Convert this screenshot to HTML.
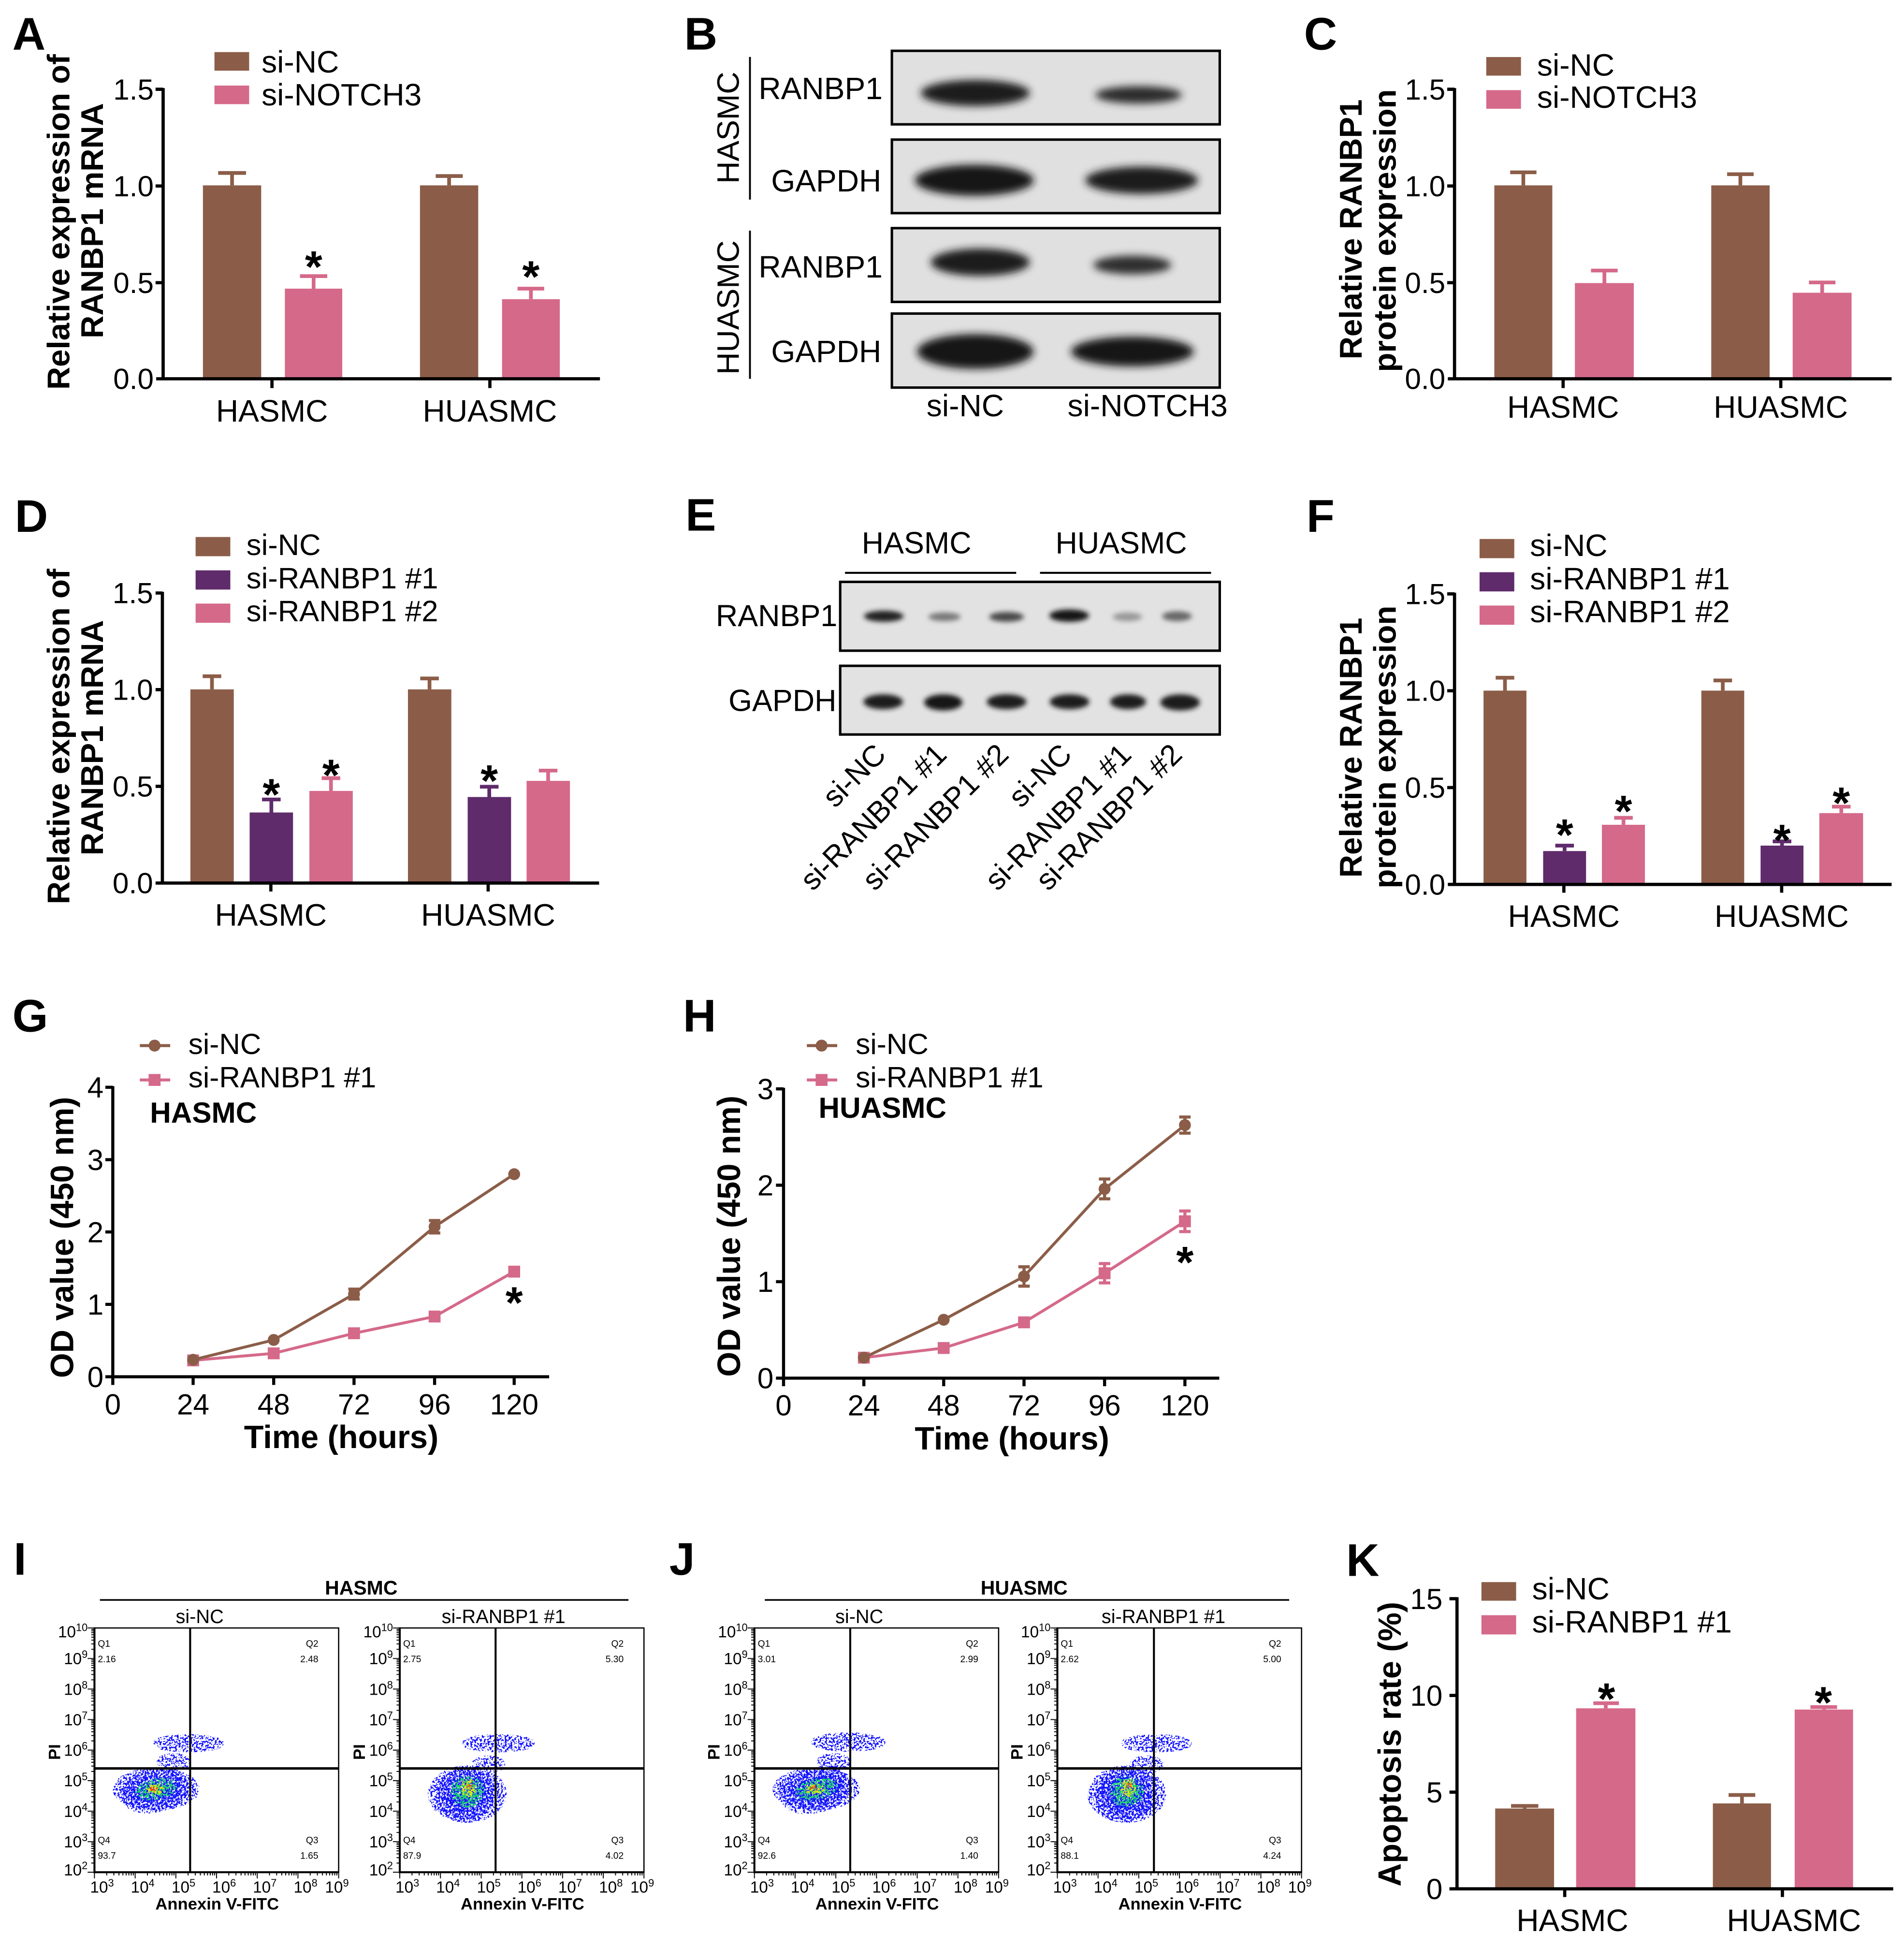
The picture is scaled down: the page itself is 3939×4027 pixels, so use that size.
<!DOCTYPE html>
<html><head><meta charset="utf-8"><title>RANBP1 figure</title>
<style>
html,body{margin:0;padding:0;background:#fff;}
svg{display:block;}
text{font-family:"Liberation Sans",Arial,sans-serif;fill:#000;}
.b{font-weight:bold;}
.pl{font-size:37px;font-weight:bold;}
.st{font-size:36px;font-weight:bold;text-anchor:middle;}
</style></head><body>
<svg xmlns="http://www.w3.org/2000/svg" width="3939" height="4027" viewBox="0 0 1536 1570.3" preserveAspectRatio="none">
<defs>
<filter id="bl" x="-50%" y="-150%" width="200%" height="400%"><feGaussianBlur stdDeviation="3.2"/></filter>
<filter id="bl2" x="-50%" y="-100%" width="200%" height="300%"><feGaussianBlur stdDeviation="2"/></filter>
<filter id="spD" x="-100%" y="-100%" width="300%" height="300%" color-interpolation-filters="sRGB">
<feGaussianBlur in="SourceAlpha" stdDeviation="5.5" result="b"/>
<feTurbulence type="fractalNoise" baseFrequency="0.6" numOctaves="2" seed="4" result="n"/>
<feColorMatrix in="n" type="matrix" values="0 0 0 0 0 0 0 0 0 0 0 0 0 0 0 8 0 0 0 -3.5" result="na"/>
<feComposite in="b" in2="na" operator="arithmetic" k1="0" k2="1" k3="1" k4="-0.8" result="s"/>
<feComponentTransfer in="s" result="t"><feFuncA type="discrete" tableValues="0 1 1 1"/></feComponentTransfer>
<feFlood flood-color="#1414ff" result="f"/>
<feComposite in="f" in2="t" operator="in"/>
</filter>
<filter id="spS" x="-100%" y="-100%" width="300%" height="300%" color-interpolation-filters="sRGB">
<feGaussianBlur in="SourceAlpha" stdDeviation="5" result="b"/>
<feTurbulence type="fractalNoise" baseFrequency="0.65" numOctaves="2" seed="9" result="n"/>
<feColorMatrix in="n" type="matrix" values="0 0 0 0 0 0 0 0 0 0 0 0 0 0 0 8 0 0 0 -3.5" result="na"/>
<feComposite in="b" in2="na" operator="arithmetic" k1="0" k2="1" k3="1" k4="-1.38" result="s"/>
<feComponentTransfer in="s" result="t"><feFuncA type="discrete" tableValues="0 1 1 1"/></feComponentTransfer>
<feFlood flood-color="#1010ff" result="f"/>
<feComposite in="f" in2="t" operator="in"/>
</filter>
<filter id="spG" x="-100%" y="-100%" width="300%" height="300%" color-interpolation-filters="sRGB">
<feGaussianBlur in="SourceAlpha" stdDeviation="3" result="b"/>
<feTurbulence type="fractalNoise" baseFrequency="0.6" numOctaves="2" seed="17" result="n"/>
<feColorMatrix in="n" type="matrix" values="0 0 0 0 0 0 0 0 0 0 0 0 0 0 0 8 0 0 0 -3.5" result="na"/>
<feComposite in="b" in2="na" operator="arithmetic" k1="0" k2="1" k3="1" k4="-1.1" result="s"/>
<feComponentTransfer in="s" result="t"><feFuncA type="discrete" tableValues="0 1 1 1"/></feComponentTransfer>
<feFlood flood-color="#1ed868" result="f"/>
<feComposite in="f" in2="t" operator="in"/>
</filter>
<filter id="spY" x="-100%" y="-100%" width="300%" height="300%" color-interpolation-filters="sRGB">
<feGaussianBlur in="SourceAlpha" stdDeviation="2" result="b"/>
<feTurbulence type="fractalNoise" baseFrequency="0.6" numOctaves="2" seed="29" result="n"/>
<feColorMatrix in="n" type="matrix" values="0 0 0 0 0 0 0 0 0 0 0 0 0 0 0 8 0 0 0 -3.5" result="na"/>
<feComposite in="b" in2="na" operator="arithmetic" k1="0" k2="1" k3="1" k4="-1.1" result="s"/>
<feComponentTransfer in="s" result="t"><feFuncA type="discrete" tableValues="0 1 1 1"/></feComponentTransfer>
<feFlood flood-color="#e8e41c" result="f"/>
<feComposite in="f" in2="t" operator="in"/>
</filter>
<filter id="spR" x="-100%" y="-100%" width="300%" height="300%" color-interpolation-filters="sRGB">
<feGaussianBlur in="SourceAlpha" stdDeviation="1.5" result="b"/>
<feTurbulence type="fractalNoise" baseFrequency="0.6" numOctaves="2" seed="41" result="n"/>
<feColorMatrix in="n" type="matrix" values="0 0 0 0 0 0 0 0 0 0 0 0 0 0 0 8 0 0 0 -3.5" result="na"/>
<feComposite in="b" in2="na" operator="arithmetic" k1="0" k2="1" k3="1" k4="-1.1" result="s"/>
<feComponentTransfer in="s" result="t"><feFuncA type="discrete" tableValues="0 1 1 1"/></feComponentTransfer>
<feFlood flood-color="#f03a10" result="f"/>
<feComposite in="f" in2="t" operator="in"/>
</filter>
</defs>
<rect width="1536" height="1570.3" fill="#fff"/>

<!-- ================= A ================= -->
<text class="pl" x="10" y="40">A</text>
<rect x="173" y="42" width="28" height="15" fill="#8B5D48"/>
<rect x="173" y="69" width="28" height="15" fill="#D5698A"/>
<text x="211" y="58.5" font-size="25">si-NC</text>
<text x="211" y="85" font-size="25">si-NOTCH3</text>
<g fill="#8B5D48"><rect x="163.7" y="149.5" width="47" height="156"/><rect x="338.8" y="149.5" width="47" height="156"/></g>
<g fill="#D5698A"><rect x="229.8" y="232.8" width="46.3" height="72.7"/><rect x="405" y="241.3" width="46.6" height="64.2"/></g>
<g fill="none" stroke-width="3">
<path d="M187.2 149.5V139.5M176 139.5H198.5M362.3 149.5V142M351.5 142H373.3" stroke="#8B5D48"/>
<path d="M253 232.8V222.7M242 222.7H264M428.3 241.3V232.8M417.5 232.8H439" stroke="#D5698A"/>
</g>
<g stroke="#000" stroke-width="2.6" fill="none">
<path d="M131.6 71V306.8M126 305.5H484M125.5 72H131.6M125.5 150H131.6M125.5 228H131.6M219.4 305.5V313M395.2 305.5V313"/>
</g>
<g font-size="23.5" text-anchor="end"><text x="124" y="80.3">1.5</text><text x="124" y="158.3">1.0</text><text x="124" y="236.3">0.5</text><text x="124" y="313.8">0.0</text></g>
<text class="st" x="253" y="227.5">*</text><text class="st" x="428.3" y="235.5">*</text>
<g font-size="25" text-anchor="middle"><text x="219.4" y="340">HASMC</text><text x="395.2" y="340">HUASMC</text></g>
<text class="b" font-size="25.5" text-anchor="middle" transform="translate(56,179) rotate(-90)">Relative expression of</text>
<text class="b" font-size="25.5" text-anchor="middle" transform="translate(83,178) rotate(-90)">RANBP1 mRNA</text>

<!-- ================= B ================= -->
<text class="pl" x="552" y="40">B</text>
<g fill="#E0E0E0">
<rect x="719.5" y="41" width="264.5" height="59.3"/><rect x="719.5" y="112.6" width="264.5" height="59.3"/>
<rect x="719.5" y="184" width="264.5" height="59.5"/><rect x="719.5" y="252.9" width="264.5" height="59.7"/>
</g>
<g filter="url(#bl)">
<ellipse cx="786.8" cy="75" rx="44" ry="10.5" fill="#1c1c1c"/><ellipse cx="918.5" cy="76.5" rx="35" ry="7" fill="#2a2a2a"/>
<ellipse cx="786" cy="145.4" rx="48" ry="12.5" fill="#161616"/><ellipse cx="921" cy="145.4" rx="45.5" ry="11" fill="#1c1c1c"/>
<ellipse cx="790.8" cy="211.5" rx="40" ry="11" fill="#1e1e1e"/><ellipse cx="913.5" cy="213.7" rx="31.5" ry="7.5" fill="#2e2e2e"/>
<ellipse cx="786.8" cy="283.5" rx="47" ry="14" fill="#141414"/><ellipse cx="913.5" cy="283.5" rx="49.5" ry="12" fill="#181818"/>
</g>
<g fill="none" stroke="#000" stroke-width="2">
<rect x="719.5" y="41" width="264.5" height="59.3"/><rect x="719.5" y="112.6" width="264.5" height="59.3"/>
<rect x="719.5" y="184" width="264.5" height="59.5"/><rect x="719.5" y="252.9" width="264.5" height="59.7"/>
</g>
<g stroke="#000" stroke-width="1.5"><line x1="605" y1="45.9" x2="605" y2="161"/><line x1="605" y1="186" x2="605" y2="305.5"/></g>
<g font-size="25" text-anchor="end">
<text x="712" y="80">RANBP1</text><text x="711" y="154.4">GAPDH</text>
<text x="712" y="223.8">RANBP1</text><text x="711" y="292">GAPDH</text>
</g>
<text font-size="25" text-anchor="middle" transform="translate(596,103) rotate(-90)">HASMC</text>
<text font-size="25" text-anchor="middle" transform="translate(596,248) rotate(-90)">HUASMC</text>
<g font-size="25" text-anchor="middle"><text x="778.7" y="335.7">si-NC</text><text x="925.8" y="335.7">si-NOTCH3</text></g>

<!-- ================= C ================= -->
<text class="pl" x="1052" y="40">C</text>
<rect x="1199" y="46" width="28" height="15" fill="#8B5D48"/>
<rect x="1199" y="72.7" width="28" height="15" fill="#D5698A"/>
<text x="1240" y="61" font-size="25">si-NC</text>
<text x="1240" y="87" font-size="25">si-NOTCH3</text>
<g fill="#8B5D48"><rect x="1205.5" y="149.5" width="46.8" height="156"/><rect x="1380.5" y="149.5" width="47.1" height="156"/></g>
<g fill="#D5698A"><rect x="1270.5" y="228.3" width="47.5" height="77.2"/><rect x="1446.2" y="236.1" width="47.5" height="69.4"/></g>
<g fill="none" stroke-width="3">
<path d="M1228.9 149.5V139M1218.3 139H1239.5M1404 149.5V140.5M1393.3 140.5H1414.7" stroke="#8B5D48"/>
<path d="M1294.3 228.3V218.2M1283.5 218.2H1305M1470 236.1V227.8M1459.3 227.8H1480.7" stroke="#D5698A"/>
</g>
<path d="M1173.4 71V306.8M1168 305.5H1526M1167.5 72H1173.4M1167.5 150H1173.4M1167.5 228H1173.4M1261 305.5V313M1436.6 305.5V313" stroke="#000" stroke-width="2.6" fill="none"/>
<g font-size="23.5" text-anchor="end"><text x="1166" y="80.3">1.5</text><text x="1166" y="158.3">1.0</text><text x="1166" y="236.3">0.5</text><text x="1166" y="313.8">0.0</text></g>
<g font-size="25" text-anchor="middle"><text x="1261" y="337">HASMC</text><text x="1436.6" y="337">HUASMC</text></g>
<text class="b" font-size="25.5" text-anchor="middle" transform="translate(1098.5,185) rotate(-90)">Relative RANBP1</text>
<text class="b" font-size="25.5" text-anchor="middle" transform="translate(1126,186) rotate(-90)">protein expression</text>

<!-- ================= D ================= -->
<text class="pl" x="12" y="429">D</text>
<rect x="157.8" y="433.1" width="28" height="15.5" fill="#8B5D48"/>
<rect x="157.8" y="460" width="28" height="15.5" fill="#5F2B6B"/>
<rect x="157.8" y="486.8" width="28" height="15.5" fill="#D5698A"/>
<g font-size="24"><text x="198.8" y="447.6">si-NC</text><text x="198.8" y="474.5">si-RANBP1 #1</text><text x="198.8" y="501.1">si-RANBP1 #2</text></g>
<g fill="#8B5D48"><rect x="153.6" y="556" width="35" height="156.2"/><rect x="329.1" y="556" width="35" height="156.2"/></g>
<g fill="#5F2B6B"><rect x="201.4" y="655.3" width="35" height="56.9"/><rect x="377.3" y="642.8" width="35" height="69.4"/></g>
<g fill="#D5698A"><rect x="249.6" y="637.9" width="35" height="74.3"/><rect x="424.8" y="629.8" width="35" height="82.4"/></g>
<g fill="none" stroke-width="3">
<path d="M171 556V545.4M163.5 545.4H178.5M346.5 556V547.2M339 547.2H354" stroke="#8B5D48"/>
<path d="M218.9 655.3V644.8M211.4 644.8H226.4M394.7 642.8V634.5M387.2 634.5H402.2" stroke="#5F2B6B"/>
<path d="M267 637.9V627.6M259.5 627.6H274.5M442.2 629.8V621.5M434.7 621.5H449.7" stroke="#D5698A"/>
</g>
<path d="M131 477.3V713.5M125.5 712.2H483.3M125.5 478.3H131M125.5 556.2H131M125.5 634.2H131M218.5 712.2V719M393.8 712.2V719" stroke="#000" stroke-width="2.6" fill="none"/>
<g font-size="23.5" text-anchor="end"><text x="123.5" y="486.5">1.5</text><text x="123.5" y="564.4">1.0</text><text x="123.5" y="642.4">0.5</text><text x="123.5" y="720.4">0.0</text></g>
<text class="st" x="218.9" y="653.2">*</text><text class="st" x="267" y="637.5">*</text><text class="st" x="394.7" y="642">*</text>
<g font-size="25" text-anchor="middle"><text x="218.5" y="746.5">HASMC</text><text x="393.8" y="746.5">HUASMC</text></g>
<text class="b" font-size="25.5" text-anchor="middle" transform="translate(56,594) rotate(-90)">Relative expression of</text>
<text class="b" font-size="25.5" text-anchor="middle" transform="translate(83,595) rotate(-90)">RANBP1 mRNA</text>

<!-- ================= E ================= -->
<text class="pl" x="553" y="428">E</text>
<g font-size="24.5" text-anchor="middle"><text x="739.4" y="446.3">HASMC</text><text x="904.5" y="446.3">HUASMC</text></g>
<g stroke="#000" stroke-width="1.6"><line x1="681.7" y1="462" x2="819.8" y2="462"/><line x1="839" y1="462" x2="977" y2="462"/></g>
<g fill="#E2E2E2"><rect x="677.8" y="469.3" width="306.2" height="55.5"/><rect x="677.8" y="537" width="306.2" height="55.4"/></g>
<g filter="url(#bl2)">
<ellipse cx="713" cy="497" rx="16" ry="4.5" fill="#222"/>
<ellipse cx="762" cy="497.5" rx="13" ry="3.5" fill="#787878"/>
<ellipse cx="812" cy="497.5" rx="14" ry="4" fill="#484848"/>
<ellipse cx="862.5" cy="496.5" rx="16" ry="5" fill="#181818"/>
<ellipse cx="909.5" cy="497.5" rx="12" ry="3.5" fill="#989898"/>
<ellipse cx="949.5" cy="497" rx="12" ry="4" fill="#686868"/>
<ellipse cx="712.5" cy="566" rx="16" ry="6" fill="#1c1c1c"/>
<ellipse cx="761" cy="566.5" rx="15.5" ry="6.5" fill="#181818"/>
<ellipse cx="812" cy="566" rx="16" ry="6" fill="#1c1c1c"/>
<ellipse cx="862.8" cy="566" rx="16" ry="6" fill="#1e1e1e"/>
<ellipse cx="910" cy="566" rx="14.5" ry="6" fill="#1c1c1c"/>
<ellipse cx="952" cy="566.5" rx="16" ry="6.5" fill="#1a1a1a"/>
</g>
<g fill="none" stroke="#000" stroke-width="2"><rect x="677.8" y="469.3" width="306.2" height="55.5"/><rect x="677.8" y="537" width="306.2" height="55.4"/></g>
<g font-size="24.5" text-anchor="end"><text x="675.5" y="505">RANBP1</text><text x="674.8" y="573.4">GAPDH</text></g>
<g font-size="24" text-anchor="end">
<text transform="translate(716,610) rotate(-45)">si-NC</text>
<text transform="translate(765,610) rotate(-45)">si-RANBP1 #1</text>
<text transform="translate(815,610) rotate(-45)">si-RANBP1 #2</text>
<text transform="translate(866,610) rotate(-45)">si-NC</text>
<text transform="translate(914,610) rotate(-45)">si-RANBP1 #1</text>
<text transform="translate(955,610) rotate(-45)">si-RANBP1 #2</text>
</g>

<!-- ================= F ================= -->
<text class="pl" x="1054" y="429">F</text>
<rect x="1193.6" y="434.7" width="28" height="15.5" fill="#8B5D48"/>
<rect x="1193.6" y="461.5" width="28" height="15.5" fill="#5F2B6B"/>
<rect x="1193.6" y="488.4" width="28" height="15.5" fill="#D5698A"/>
<g font-size="25"><text x="1234.3" y="448.5">si-NC</text><text x="1234.3" y="475.4">si-RANBP1 #1</text><text x="1234.3" y="501.8">si-RANBP1 #2</text></g>
<g fill="#8B5D48"><rect x="1196.8" y="557" width="34.6" height="156.3"/><rect x="1372.5" y="557" width="34.6" height="156.3"/></g>
<g fill="#5F2B6B"><rect x="1244.9" y="686.4" width="34.6" height="26.9"/><rect x="1420.3" y="682" width="34.6" height="31.3"/></g>
<g fill="#D5698A"><rect x="1292.3" y="665.2" width="34.7" height="48.1"/><rect x="1467.7" y="655.8" width="35.3" height="57.5"/></g>
<g fill="none" stroke-width="3">
<path d="M1214.1 557V546.6M1206.6 546.6H1221.6M1389.8 557V548.8M1382.3 548.8H1397.3" stroke="#8B5D48"/>
<path d="M1262.2 686.4V682M1254.7 682H1269.7M1437.6 682V678.6M1430.1 678.6H1445.1" stroke="#5F2B6B"/>
<path d="M1309.7 665.2V659.6M1302.2 659.6H1317.2M1485.4 655.8V650.6M1477.9 650.6H1492.9" stroke="#D5698A"/>
</g>
<path d="M1173.4 478V714.6M1168 713.3H1526M1167.5 479H1173.4M1167.5 557.1H1173.4M1167.5 635.2H1173.4M1261.6 713.3V720M1437.3 713.3V720" stroke="#000" stroke-width="2.6" fill="none"/>
<g font-size="23.5" text-anchor="end"><text x="1166" y="487.2">1.5</text><text x="1166" y="565.3">1.0</text><text x="1166" y="643.4">0.5</text><text x="1166" y="721.5">0.0</text></g>
<text class="st" x="1262.2" y="685.7">*</text><text class="st" x="1309.7" y="666.7">*</text><text class="st" x="1437.6" y="690.1">*</text><text class="st" x="1485.4" y="660">*</text>
<g font-size="25" text-anchor="middle"><text x="1261.6" y="747.5">HASMC</text><text x="1437.3" y="747.5">HUASMC</text></g>
<text class="b" font-size="25.5" text-anchor="middle" transform="translate(1098.5,603) rotate(-90)">Relative RANBP1</text>
<text class="b" font-size="25.5" text-anchor="middle" transform="translate(1126,602.5) rotate(-90)">protein expression</text>

<!-- ================= G ================= -->
<text class="pl" x="10" y="832">G</text>
<line x1="112.8" y1="843.3" x2="137.3" y2="843.3" stroke="#8B5D48" stroke-width="2.4"/>
<circle cx="124.7" cy="843.3" r="4.8" fill="#8B5D48"/>
<line x1="112.8" y1="871" x2="137.3" y2="871" stroke="#D5698A" stroke-width="2.4"/>
<rect x="119.9" y="866.2" width="9.6" height="9.6" fill="#D5698A"/>
<g font-size="23.5"><text x="152" y="850">si-NC</text><text x="152" y="877">si-RANBP1 #1</text></g>
<text class="b" font-size="23.5" x="121" y="905.4">HASMC</text>
<path d="M91 876V1111.6M85 1110.4H443M85 876.9H91M85 935.3H91M85 993.6H91M85 1052H91M91 1110.4V1117M155.8 1110.4V1117M220.8 1110.4V1117M285.6 1110.4V1117M350.6 1110.4V1117M414.8 1110.4V1117" stroke="#000" stroke-width="2.5" fill="none"/>
<g font-size="23.5" text-anchor="end"><text x="83.5" y="885.2">4</text><text x="83.5" y="943.6">3</text><text x="83.5" y="1001.9">2</text><text x="83.5" y="1060.3">1</text><text x="83.5" y="1118.7">0</text></g>
<g font-size="23.5" text-anchor="middle"><text x="91" y="1140.7">0</text><text x="155.8" y="1140.7">24</text><text x="220.8" y="1140.7">48</text><text x="285.6" y="1140.7">72</text><text x="350.6" y="1140.7">96</text><text x="414.8" y="1140.7">120</text></g>
<text class="b" font-size="26" text-anchor="middle" x="275.3" y="1167.8">Time (hours)</text>
<text class="b" font-size="26" text-anchor="middle" transform="translate(59,998) rotate(-90)">OD value (450 nm)</text>
<polyline points="155.8,1097.2 220.8,1091.5 285.6,1075.3 350.6,1061.8 414.8,1025.6" fill="none" stroke="#D5698A" stroke-width="2.3"/>
<g fill="#D5698A"><rect x="151" y="1092.4" width="9.6" height="9.6"/><rect x="216" y="1086.7" width="9.6" height="9.6"/><rect x="280.8" y="1070.5" width="9.6" height="9.6"/><rect x="345.8" y="1057" width="9.6" height="9.6"/><rect x="410" y="1020.8" width="9.6" height="9.6"/></g>
<polyline points="155.8,1096.7 220.8,1080.7 285.6,1043.7 350.6,989.4 414.8,947" fill="none" stroke="#8B5D48" stroke-width="2.3"/>
<path d="M285.6 1039.7V1047.7M281 1039.7H290.2M281 1047.7H290.2M350.6 984.4V994.4M346 984.4H355.2M346 994.4H355.2" stroke="#8B5D48" stroke-width="2.5" fill="none"/>
<g fill="#8B5D48"><circle cx="155.8" cy="1096.7" r="4.8"/><circle cx="220.8" cy="1080.7" r="4.8"/><circle cx="285.6" cy="1043.7" r="4.8"/><circle cx="350.6" cy="989.4" r="4.8"/><circle cx="414.8" cy="947" r="4.8"/></g>
<text class="st" x="414.8" y="1063">*</text>

<!-- ================= H ================= -->
<text class="pl" x="551" y="832">H</text>
<line x1="650.9" y1="843.3" x2="675.4" y2="843.3" stroke="#8B5D48" stroke-width="2.4"/>
<circle cx="662.8" cy="843.3" r="4.8" fill="#8B5D48"/>
<line x1="650.9" y1="871" x2="675.4" y2="871" stroke="#D5698A" stroke-width="2.4"/>
<rect x="658" y="866.2" width="9.6" height="9.6" fill="#D5698A"/>
<g font-size="23.5"><text x="690.3" y="850">si-NC</text><text x="690.3" y="877">si-RANBP1 #1</text></g>
<text class="b" font-size="23.5" x="660.4" y="901.5">HUASMC</text>
<path d="M632.1 877.3V1112.7M626 1111.5H983.6M626 878.2H632.1M626 955.9H632.1M626 1033.7H632.1M632.1 1111.5V1118M696.9 1111.5V1118M761.3 1111.5V1118M826.1 1111.5V1118M891.1 1111.5V1118M955.9 1111.5V1118" stroke="#000" stroke-width="2.5" fill="none"/>
<g font-size="23.5" text-anchor="end"><text x="624" y="886.5">3</text><text x="624" y="964.2">2</text><text x="624" y="1042">1</text><text x="624" y="1119.8">0</text></g>
<g font-size="23.5" text-anchor="middle"><text x="632.1" y="1141.5">0</text><text x="696.9" y="1141.5">24</text><text x="761.3" y="1141.5">48</text><text x="826.1" y="1141.5">72</text><text x="891.1" y="1141.5">96</text><text x="955.9" y="1141.5">120</text></g>
<text class="b" font-size="26" text-anchor="middle" x="816.4" y="1169">Time (hours)</text>
<text class="b" font-size="26" text-anchor="middle" transform="translate(597,997) rotate(-90)">OD value (450 nm)</text>
<polyline points="696.9,1095 761.3,1087.2 826.1,1066.5 891.1,1026.9 955.9,985" fill="none" stroke="#D5698A" stroke-width="2.3"/>
<path d="M891.1 1019.1V1034.7M886.5 1019.1H895.7M886.5 1034.7H895.7M955.9 976.7V993.3M951.3 976.7H960.5M951.3 993.3H960.5" stroke="#D5698A" stroke-width="2.5" fill="none"/>
<g fill="#D5698A"><rect x="692.1" y="1090.2" width="9.6" height="9.6"/><rect x="756.5" y="1082.4" width="9.6" height="9.6"/><rect x="821.3" y="1061.7" width="9.6" height="9.6"/><rect x="886.3" y="1022.1" width="9.6" height="9.6"/><rect x="951.1" y="980.2" width="9.6" height="9.6"/></g>
<polyline points="696.9,1095 761.3,1064.4 826.1,1029.5 891.1,958.9 955.9,907.4" fill="none" stroke="#8B5D48" stroke-width="2.3"/>
<path d="M826.1 1021.7V1037.3M821.5 1021.7H830.7M821.5 1037.3H830.7M891.1 950.9V966.9M886.5 950.9H895.7M886.5 966.9H895.7M955.9 900.9V913.9M951.3 900.9H960.5M951.3 913.9H960.5" stroke="#8B5D48" stroke-width="2.5" fill="none"/>
<g fill="#8B5D48"><circle cx="696.9" cy="1095" r="4.8"/><circle cx="761.3" cy="1064.4" r="4.8"/><circle cx="826.1" cy="1029.5" r="4.8"/><circle cx="891.1" cy="958.9" r="4.8"/><circle cx="955.9" cy="907.4" r="4.8"/></g>
<text class="st" x="955.9" y="1030.5">*</text>

<!-- ================= I / J ================= -->
<text class="pl" x="11" y="1270">I</text>
<text class="pl" x="540" y="1270">J</text>
<text class="b" font-size="16" text-anchor="middle" x="291.4" y="1286">HASMC</text>
<text class="b" font-size="16" text-anchor="middle" x="826.2" y="1286">HUASMC</text>
<g stroke="#000" stroke-width="1.3"><line x1="80.6" y1="1290.4" x2="507" y2="1290.4"/><line x1="617" y1="1290.4" x2="1040" y2="1290.4"/></g>
<g font-size="15.5" text-anchor="middle">
<text x="161.1" y="1309.1">si-NC</text><text x="406.2" y="1309.1">si-RANBP1 #1</text>
<text x="693.2" y="1309.1">si-NC</text><text x="938.6" y="1309.1">si-RANBP1 #1</text>
</g>

<!-- scatter clouds -->
<g fill="#000">
<!-- I1 -->
<ellipse cx="126" cy="1443" rx="38" ry="19" filter="url(#spS)"/>
<ellipse cx="152" cy="1406" rx="35" ry="9" filter="url(#spS)"/>
<ellipse cx="140" cy="1421" rx="18" ry="9" filter="url(#spS)"/>
<ellipse cx="125" cy="1444" rx="21" ry="9.5" transform="rotate(-12 125 1444)" filter="url(#spD)"/>
<ellipse cx="126" cy="1443" rx="17" ry="7.5" transform="rotate(-12 126 1443)" filter="url(#spG)"/>
<ellipse cx="125" cy="1443" rx="8" ry="4" filter="url(#spY)"/>
<ellipse cx="124" cy="1442.5" rx="3.5" ry="2" filter="url(#spR)"/>
<!-- I2 -->
<ellipse cx="377" cy="1447" rx="34" ry="25" filter="url(#spS)"/>
<ellipse cx="402" cy="1406" rx="36" ry="9" filter="url(#spS)"/>
<ellipse cx="394" cy="1423" rx="18" ry="9" filter="url(#spS)"/>
<ellipse cx="376" cy="1447" rx="17" ry="14" transform="rotate(-25 376 1447)" filter="url(#spD)"/>
<ellipse cx="377" cy="1445" rx="13" ry="12" filter="url(#spG)"/>
<ellipse cx="378" cy="1442" rx="6" ry="7" filter="url(#spY)"/>
<ellipse cx="379" cy="1440" rx="2.5" ry="2.5" filter="url(#spR)"/>
<!-- J1 -->
<ellipse cx="658.4" cy="1443" rx="38" ry="19" filter="url(#spS)"/>
<ellipse cx="684.4" cy="1405" rx="36" ry="9.5" filter="url(#spS)"/>
<ellipse cx="672.4" cy="1421" rx="18" ry="9" filter="url(#spS)"/>
<ellipse cx="657.4" cy="1444" rx="22" ry="10" transform="rotate(-12 657.4 1444)" filter="url(#spD)"/>
<ellipse cx="658.4" cy="1443" rx="17" ry="7.5" transform="rotate(-12 658.4 1443)" filter="url(#spG)"/>
<ellipse cx="657.4" cy="1443" rx="8" ry="4" filter="url(#spY)"/>
<ellipse cx="656.4" cy="1442.5" rx="3.5" ry="2" filter="url(#spR)"/>
<!-- J2 -->
<ellipse cx="909" cy="1447" rx="34" ry="25" filter="url(#spS)"/>
<ellipse cx="933" cy="1406" rx="35" ry="9" filter="url(#spS)"/>
<ellipse cx="925" cy="1423" rx="18" ry="9" filter="url(#spS)"/>
<ellipse cx="908" cy="1447" rx="17" ry="14" transform="rotate(-25 908 1447)" filter="url(#spD)"/>
<ellipse cx="909" cy="1445" rx="13" ry="12" filter="url(#spG)"/>
<ellipse cx="910" cy="1442" rx="6" ry="7" filter="url(#spY)"/>
<ellipse cx="911" cy="1440" rx="2.5" ry="2.5" filter="url(#spR)"/>
</g>

<!-- plot frames -->
<g fill="none" stroke="#000">
<rect x="76.2" y="1313" width="197" height="197" stroke-width="1"/>
<rect x="322.5" y="1313" width="197" height="197" stroke-width="1"/>
<rect x="608.6" y="1313" width="197" height="197" stroke-width="1"/>
<rect x="853" y="1313" width="197" height="197" stroke-width="1"/>
<path stroke-width="1.6" d="M76.2 1312.5V1510.8M75.5 1510H273.2M322.5 1312.5V1510.8M321.8 1510H519.5M608.6 1312.5V1510.8M607.9 1510H805.6M853 1312.5V1510.8M852.3 1510H1050"/>
<path stroke-width="1.6" d="M153.4 1313V1510M399.8 1313V1510M685.9 1313V1510M930.9 1313V1510"/>
<path stroke-width="2" d="M76.2 1426.3H273.2M322.5 1426.3H519.5M608.6 1426.3H805.6M853 1426.3H1050"/>
</g>
<!-- log axis ticks -->
<g fill="none" stroke="#000" stroke-width="0.75">
<path transform="translate(76.2,1510)" d="M-5.5 0H0M-2.6 -7.41H0M-2.6 -11.75H0M-2.6 -14.82H0M-2.6 -17.21H0M-2.6 -19.16H0M-2.6 -20.81H0M-2.6 -22.24H0M-2.6 -23.49H0M-5.5 -24.63H0M-2.6 -32.04H0M-2.6 -36.38H0M-2.6 -39.45H0M-2.6 -41.84H0M-2.6 -43.79H0M-2.6 -45.44H0M-2.6 -46.87H0M-2.6 -48.12H0M-5.5 -49.25H0M-2.6 -56.66H0M-2.6 -61H0M-2.6 -64.07H0M-2.6 -66.46H0M-2.6 -68.41H0M-2.6 -70.06H0M-2.6 -71.49H0M-2.6 -72.74H0M-5.5 -73.88H0M-2.6 -81.29H0M-2.6 -85.63H0M-2.6 -88.7H0M-2.6 -91.09H0M-2.6 -93.04H0M-2.6 -94.69H0M-2.6 -96.12H0M-2.6 -97.37H0M-5.5 -98.5H0M-2.6 -105.91H0M-2.6 -110.25H0M-2.6 -113.32H0M-2.6 -115.71H0M-2.6 -117.66H0M-2.6 -119.31H0M-2.6 -120.74H0M-2.6 -121.99H0M-5.5 -123.13H0M-2.6 -130.54H0M-2.6 -134.88H0M-2.6 -137.95H0M-2.6 -140.34H0M-2.6 -142.29H0M-2.6 -143.94H0M-2.6 -145.37H0M-2.6 -146.62H0M-5.5 -147.75H0M-2.6 -155.16H0M-2.6 -159.5H0M-2.6 -162.57H0M-2.6 -164.96H0M-2.6 -166.91H0M-2.6 -168.56H0M-2.6 -169.99H0M-2.6 -171.24H0M-5.5 -172.38H0M-2.6 -179.79H0M-2.6 -184.13H0M-2.6 -187.2H0M-2.6 -189.59H0M-2.6 -191.54H0M-2.6 -193.19H0M-2.6 -194.62H0M-2.6 -195.87H0M-5.5 -197H0M0 0V5M9.88 0V2.6M15.66 0V2.6M19.77 0V2.6M22.95 0V2.6M25.55 0V2.6M27.75 0V2.6M29.65 0V2.6M31.33 0V2.6M32.83 0V5M42.71 0V2.6M48.49 0V2.6M52.6 0V2.6M55.78 0V2.6M58.38 0V2.6M60.58 0V2.6M62.48 0V2.6M64.16 0V2.6M65.67 0V5M75.55 0V2.6M81.33 0V2.6M85.44 0V2.6M88.62 0V2.6M91.22 0V2.6M93.42 0V2.6M95.32 0V2.6M97 0V2.6M98.5 0V5M108.38 0V2.6M114.16 0V2.6M118.27 0V2.6M121.45 0V2.6M124.05 0V2.6M126.25 0V2.6M128.15 0V2.6M129.83 0V2.6M131.33 0V5M141.21 0V2.6M146.99 0V2.6M151.1 0V2.6M154.28 0V2.6M156.88 0V2.6M159.08 0V2.6M160.98 0V2.6M162.66 0V2.6M164.17 0V5M174.05 0V2.6M179.83 0V2.6M183.94 0V2.6M187.12 0V2.6M189.72 0V2.6M191.92 0V2.6M193.82 0V2.6M195.5 0V2.6M197 0V5"/>
<path transform="translate(322.5,1510)" d="M-5.5 0H0M-2.6 -7.41H0M-2.6 -11.75H0M-2.6 -14.82H0M-2.6 -17.21H0M-2.6 -19.16H0M-2.6 -20.81H0M-2.6 -22.24H0M-2.6 -23.49H0M-5.5 -24.63H0M-2.6 -32.04H0M-2.6 -36.38H0M-2.6 -39.45H0M-2.6 -41.84H0M-2.6 -43.79H0M-2.6 -45.44H0M-2.6 -46.87H0M-2.6 -48.12H0M-5.5 -49.25H0M-2.6 -56.66H0M-2.6 -61H0M-2.6 -64.07H0M-2.6 -66.46H0M-2.6 -68.41H0M-2.6 -70.06H0M-2.6 -71.49H0M-2.6 -72.74H0M-5.5 -73.88H0M-2.6 -81.29H0M-2.6 -85.63H0M-2.6 -88.7H0M-2.6 -91.09H0M-2.6 -93.04H0M-2.6 -94.69H0M-2.6 -96.12H0M-2.6 -97.37H0M-5.5 -98.5H0M-2.6 -105.91H0M-2.6 -110.25H0M-2.6 -113.32H0M-2.6 -115.71H0M-2.6 -117.66H0M-2.6 -119.31H0M-2.6 -120.74H0M-2.6 -121.99H0M-5.5 -123.13H0M-2.6 -130.54H0M-2.6 -134.88H0M-2.6 -137.95H0M-2.6 -140.34H0M-2.6 -142.29H0M-2.6 -143.94H0M-2.6 -145.37H0M-2.6 -146.62H0M-5.5 -147.75H0M-2.6 -155.16H0M-2.6 -159.5H0M-2.6 -162.57H0M-2.6 -164.96H0M-2.6 -166.91H0M-2.6 -168.56H0M-2.6 -169.99H0M-2.6 -171.24H0M-5.5 -172.38H0M-2.6 -179.79H0M-2.6 -184.13H0M-2.6 -187.2H0M-2.6 -189.59H0M-2.6 -191.54H0M-2.6 -193.19H0M-2.6 -194.62H0M-2.6 -195.87H0M-5.5 -197H0M0 0V5M9.88 0V2.6M15.66 0V2.6M19.77 0V2.6M22.95 0V2.6M25.55 0V2.6M27.75 0V2.6M29.65 0V2.6M31.33 0V2.6M32.83 0V5M42.71 0V2.6M48.49 0V2.6M52.6 0V2.6M55.78 0V2.6M58.38 0V2.6M60.58 0V2.6M62.48 0V2.6M64.16 0V2.6M65.67 0V5M75.55 0V2.6M81.33 0V2.6M85.44 0V2.6M88.62 0V2.6M91.22 0V2.6M93.42 0V2.6M95.32 0V2.6M97 0V2.6M98.5 0V5M108.38 0V2.6M114.16 0V2.6M118.27 0V2.6M121.45 0V2.6M124.05 0V2.6M126.25 0V2.6M128.15 0V2.6M129.83 0V2.6M131.33 0V5M141.21 0V2.6M146.99 0V2.6M151.1 0V2.6M154.28 0V2.6M156.88 0V2.6M159.08 0V2.6M160.98 0V2.6M162.66 0V2.6M164.17 0V5M174.05 0V2.6M179.83 0V2.6M183.94 0V2.6M187.12 0V2.6M189.72 0V2.6M191.92 0V2.6M193.82 0V2.6M195.5 0V2.6M197 0V5"/>
<path transform="translate(608.6,1510)" d="M-5.5 0H0M-2.6 -7.41H0M-2.6 -11.75H0M-2.6 -14.82H0M-2.6 -17.21H0M-2.6 -19.16H0M-2.6 -20.81H0M-2.6 -22.24H0M-2.6 -23.49H0M-5.5 -24.63H0M-2.6 -32.04H0M-2.6 -36.38H0M-2.6 -39.45H0M-2.6 -41.84H0M-2.6 -43.79H0M-2.6 -45.44H0M-2.6 -46.87H0M-2.6 -48.12H0M-5.5 -49.25H0M-2.6 -56.66H0M-2.6 -61H0M-2.6 -64.07H0M-2.6 -66.46H0M-2.6 -68.41H0M-2.6 -70.06H0M-2.6 -71.49H0M-2.6 -72.74H0M-5.5 -73.88H0M-2.6 -81.29H0M-2.6 -85.63H0M-2.6 -88.7H0M-2.6 -91.09H0M-2.6 -93.04H0M-2.6 -94.69H0M-2.6 -96.12H0M-2.6 -97.37H0M-5.5 -98.5H0M-2.6 -105.91H0M-2.6 -110.25H0M-2.6 -113.32H0M-2.6 -115.71H0M-2.6 -117.66H0M-2.6 -119.31H0M-2.6 -120.74H0M-2.6 -121.99H0M-5.5 -123.13H0M-2.6 -130.54H0M-2.6 -134.88H0M-2.6 -137.95H0M-2.6 -140.34H0M-2.6 -142.29H0M-2.6 -143.94H0M-2.6 -145.37H0M-2.6 -146.62H0M-5.5 -147.75H0M-2.6 -155.16H0M-2.6 -159.5H0M-2.6 -162.57H0M-2.6 -164.96H0M-2.6 -166.91H0M-2.6 -168.56H0M-2.6 -169.99H0M-2.6 -171.24H0M-5.5 -172.38H0M-2.6 -179.79H0M-2.6 -184.13H0M-2.6 -187.2H0M-2.6 -189.59H0M-2.6 -191.54H0M-2.6 -193.19H0M-2.6 -194.62H0M-2.6 -195.87H0M-5.5 -197H0M0 0V5M9.88 0V2.6M15.66 0V2.6M19.77 0V2.6M22.95 0V2.6M25.55 0V2.6M27.75 0V2.6M29.65 0V2.6M31.33 0V2.6M32.83 0V5M42.71 0V2.6M48.49 0V2.6M52.6 0V2.6M55.78 0V2.6M58.38 0V2.6M60.58 0V2.6M62.48 0V2.6M64.16 0V2.6M65.67 0V5M75.55 0V2.6M81.33 0V2.6M85.44 0V2.6M88.62 0V2.6M91.22 0V2.6M93.42 0V2.6M95.32 0V2.6M97 0V2.6M98.5 0V5M108.38 0V2.6M114.16 0V2.6M118.27 0V2.6M121.45 0V2.6M124.05 0V2.6M126.25 0V2.6M128.15 0V2.6M129.83 0V2.6M131.33 0V5M141.21 0V2.6M146.99 0V2.6M151.1 0V2.6M154.28 0V2.6M156.88 0V2.6M159.08 0V2.6M160.98 0V2.6M162.66 0V2.6M164.17 0V5M174.05 0V2.6M179.83 0V2.6M183.94 0V2.6M187.12 0V2.6M189.72 0V2.6M191.92 0V2.6M193.82 0V2.6M195.5 0V2.6M197 0V5"/>
<path transform="translate(853,1510)" d="M-5.5 0H0M-2.6 -7.41H0M-2.6 -11.75H0M-2.6 -14.82H0M-2.6 -17.21H0M-2.6 -19.16H0M-2.6 -20.81H0M-2.6 -22.24H0M-2.6 -23.49H0M-5.5 -24.63H0M-2.6 -32.04H0M-2.6 -36.38H0M-2.6 -39.45H0M-2.6 -41.84H0M-2.6 -43.79H0M-2.6 -45.44H0M-2.6 -46.87H0M-2.6 -48.12H0M-5.5 -49.25H0M-2.6 -56.66H0M-2.6 -61H0M-2.6 -64.07H0M-2.6 -66.46H0M-2.6 -68.41H0M-2.6 -70.06H0M-2.6 -71.49H0M-2.6 -72.74H0M-5.5 -73.88H0M-2.6 -81.29H0M-2.6 -85.63H0M-2.6 -88.7H0M-2.6 -91.09H0M-2.6 -93.04H0M-2.6 -94.69H0M-2.6 -96.12H0M-2.6 -97.37H0M-5.5 -98.5H0M-2.6 -105.91H0M-2.6 -110.25H0M-2.6 -113.32H0M-2.6 -115.71H0M-2.6 -117.66H0M-2.6 -119.31H0M-2.6 -120.74H0M-2.6 -121.99H0M-5.5 -123.13H0M-2.6 -130.54H0M-2.6 -134.88H0M-2.6 -137.95H0M-2.6 -140.34H0M-2.6 -142.29H0M-2.6 -143.94H0M-2.6 -145.37H0M-2.6 -146.62H0M-5.5 -147.75H0M-2.6 -155.16H0M-2.6 -159.5H0M-2.6 -162.57H0M-2.6 -164.96H0M-2.6 -166.91H0M-2.6 -168.56H0M-2.6 -169.99H0M-2.6 -171.24H0M-5.5 -172.38H0M-2.6 -179.79H0M-2.6 -184.13H0M-2.6 -187.2H0M-2.6 -189.59H0M-2.6 -191.54H0M-2.6 -193.19H0M-2.6 -194.62H0M-2.6 -195.87H0M-5.5 -197H0M0 0V5M9.88 0V2.6M15.66 0V2.6M19.77 0V2.6M22.95 0V2.6M25.55 0V2.6M27.75 0V2.6M29.65 0V2.6M31.33 0V2.6M32.83 0V5M42.71 0V2.6M48.49 0V2.6M52.6 0V2.6M55.78 0V2.6M58.38 0V2.6M60.58 0V2.6M62.48 0V2.6M64.16 0V2.6M65.67 0V5M75.55 0V2.6M81.33 0V2.6M85.44 0V2.6M88.62 0V2.6M91.22 0V2.6M93.42 0V2.6M95.32 0V2.6M97 0V2.6M98.5 0V5M108.38 0V2.6M114.16 0V2.6M118.27 0V2.6M121.45 0V2.6M124.05 0V2.6M126.25 0V2.6M128.15 0V2.6M129.83 0V2.6M131.33 0V5M141.21 0V2.6M146.99 0V2.6M151.1 0V2.6M154.28 0V2.6M156.88 0V2.6M159.08 0V2.6M160.98 0V2.6M162.66 0V2.6M164.17 0V5M174.05 0V2.6M179.83 0V2.6M183.94 0V2.6M187.12 0V2.6M189.72 0V2.6M191.92 0V2.6M193.82 0V2.6M195.5 0V2.6M197 0V5"/>
</g>
<g font-size="7.5" fill="#222">
<text x="78.9" y="1328.2">Q1</text><text x="78.9" y="1340.6">2.16</text><text x="78.9" y="1486.6">Q4</text><text x="78.9" y="1499.2">93.7</text>
<text x="325.2" y="1328.2">Q1</text><text x="325.2" y="1340.6">2.75</text><text x="325.2" y="1486.6">Q4</text><text x="325.2" y="1499.2">87.9</text>
<text x="611.3" y="1328.2">Q1</text><text x="611.3" y="1340.6">3.01</text><text x="611.3" y="1486.6">Q4</text><text x="611.3" y="1499.2">92.6</text>
<text x="855.7" y="1328.2">Q1</text><text x="855.7" y="1340.6">2.62</text><text x="855.7" y="1486.6">Q4</text><text x="855.7" y="1499.2">88.1</text>
</g>
<g font-size="7.5" fill="#222" text-anchor="end">
<text x="256.8" y="1328.2">Q2</text><text x="256.8" y="1340.6">2.48</text><text x="256.8" y="1486.6">Q3</text><text x="256.8" y="1499.2">1.65</text>
<text x="503.1" y="1328.2">Q2</text><text x="503.1" y="1340.6">5.30</text><text x="503.1" y="1486.6">Q3</text><text x="503.1" y="1499.2">4.02</text>
<text x="789.2" y="1328.2">Q2</text><text x="789.2" y="1340.6">2.99</text><text x="789.2" y="1486.6">Q3</text><text x="789.2" y="1499.2">1.40</text>
<text x="1033.6" y="1328.2">Q2</text><text x="1033.6" y="1340.6">5.00</text><text x="1033.6" y="1486.6">Q3</text><text x="1033.6" y="1499.2">4.24</text>
</g>
<g class="b" font-size="13.5" text-anchor="middle">
<text transform="translate(48.5,1413) rotate(-90)">PI</text>
<text transform="translate(294.5,1413) rotate(-90)">PI</text>
<text transform="translate(580.5,1413) rotate(-90)">PI</text>
<text transform="translate(825,1413) rotate(-90)">PI</text>
<text x="175.2" y="1540">Annexin V-FITC</text>
<text x="421.5" y="1540">Annexin V-FITC</text>
<text x="707.6" y="1540">Annexin V-FITC</text>
<text x="952" y="1540">Annexin V-FITC</text>
</g>
<g font-size="13" text-anchor="end">
<text x="70.7" y="1320.5">10<tspan font-size="8.5" dy="-5">10</tspan></text>
<text x="70.7" y="1342.2">10<tspan font-size="8.5" dy="-5">9</tspan></text>
<text x="70.7" y="1366.9">10<tspan font-size="8.5" dy="-5">8</tspan></text>
<text x="70.7" y="1391.5">10<tspan font-size="8.5" dy="-5">7</tspan></text>
<text x="70.7" y="1416.1">10<tspan font-size="8.5" dy="-5">6</tspan></text>
<text x="70.7" y="1440.7">10<tspan font-size="8.5" dy="-5">5</tspan></text>
<text x="70.7" y="1465.4">10<tspan font-size="8.5" dy="-5">4</tspan></text>
<text x="70.7" y="1490">10<tspan font-size="8.5" dy="-5">3</tspan></text>
<text x="70.7" y="1512.5">10<tspan font-size="8.5" dy="-5">2</tspan></text>
<text x="317" y="1320.5">10<tspan font-size="8.5" dy="-5">10</tspan></text>
<text x="317" y="1342.2">10<tspan font-size="8.5" dy="-5">9</tspan></text>
<text x="317" y="1366.9">10<tspan font-size="8.5" dy="-5">8</tspan></text>
<text x="317" y="1391.5">10<tspan font-size="8.5" dy="-5">7</tspan></text>
<text x="317" y="1416.1">10<tspan font-size="8.5" dy="-5">6</tspan></text>
<text x="317" y="1440.7">10<tspan font-size="8.5" dy="-5">5</tspan></text>
<text x="317" y="1465.4">10<tspan font-size="8.5" dy="-5">4</tspan></text>
<text x="317" y="1490">10<tspan font-size="8.5" dy="-5">3</tspan></text>
<text x="317" y="1512.5">10<tspan font-size="8.5" dy="-5">2</tspan></text>
<text x="603.1" y="1320.5">10<tspan font-size="8.5" dy="-5">10</tspan></text>
<text x="603.1" y="1342.2">10<tspan font-size="8.5" dy="-5">9</tspan></text>
<text x="603.1" y="1366.9">10<tspan font-size="8.5" dy="-5">8</tspan></text>
<text x="603.1" y="1391.5">10<tspan font-size="8.5" dy="-5">7</tspan></text>
<text x="603.1" y="1416.1">10<tspan font-size="8.5" dy="-5">6</tspan></text>
<text x="603.1" y="1440.7">10<tspan font-size="8.5" dy="-5">5</tspan></text>
<text x="603.1" y="1465.4">10<tspan font-size="8.5" dy="-5">4</tspan></text>
<text x="603.1" y="1490">10<tspan font-size="8.5" dy="-5">3</tspan></text>
<text x="603.1" y="1512.5">10<tspan font-size="8.5" dy="-5">2</tspan></text>
<text x="847.5" y="1320.5">10<tspan font-size="8.5" dy="-5">10</tspan></text>
<text x="847.5" y="1342.2">10<tspan font-size="8.5" dy="-5">9</tspan></text>
<text x="847.5" y="1366.9">10<tspan font-size="8.5" dy="-5">8</tspan></text>
<text x="847.5" y="1391.5">10<tspan font-size="8.5" dy="-5">7</tspan></text>
<text x="847.5" y="1416.1">10<tspan font-size="8.5" dy="-5">6</tspan></text>
<text x="847.5" y="1440.7">10<tspan font-size="8.5" dy="-5">5</tspan></text>
<text x="847.5" y="1465.4">10<tspan font-size="8.5" dy="-5">4</tspan></text>
<text x="847.5" y="1490">10<tspan font-size="8.5" dy="-5">3</tspan></text>
<text x="847.5" y="1512.5">10<tspan font-size="8.5" dy="-5">2</tspan></text>
</g>
<g font-size="13">
<text x="72.7" y="1526.5">10<tspan font-size="8.5" dy="-5">3</tspan></text>
<text x="105.5" y="1526.5">10<tspan font-size="8.5" dy="-5">4</tspan></text>
<text x="138.4" y="1526.5">10<tspan font-size="8.5" dy="-5">5</tspan></text>
<text x="171.2" y="1526.5">10<tspan font-size="8.5" dy="-5">6</tspan></text>
<text x="204" y="1526.5">10<tspan font-size="8.5" dy="-5">7</tspan></text>
<text x="236.9" y="1526.5">10<tspan font-size="8.5" dy="-5">8</tspan></text>
<text x="262.2" y="1526.5">10<tspan font-size="8.5" dy="-5">9</tspan></text>
<text x="319" y="1526.5">10<tspan font-size="8.5" dy="-5">3</tspan></text>
<text x="351.8" y="1526.5">10<tspan font-size="8.5" dy="-5">4</tspan></text>
<text x="384.7" y="1526.5">10<tspan font-size="8.5" dy="-5">5</tspan></text>
<text x="417.5" y="1526.5">10<tspan font-size="8.5" dy="-5">6</tspan></text>
<text x="450.3" y="1526.5">10<tspan font-size="8.5" dy="-5">7</tspan></text>
<text x="483.2" y="1526.5">10<tspan font-size="8.5" dy="-5">8</tspan></text>
<text x="508.5" y="1526.5">10<tspan font-size="8.5" dy="-5">9</tspan></text>
<text x="605.1" y="1526.5">10<tspan font-size="8.5" dy="-5">3</tspan></text>
<text x="637.9" y="1526.5">10<tspan font-size="8.5" dy="-5">4</tspan></text>
<text x="670.8" y="1526.5">10<tspan font-size="8.5" dy="-5">5</tspan></text>
<text x="703.6" y="1526.5">10<tspan font-size="8.5" dy="-5">6</tspan></text>
<text x="736.4" y="1526.5">10<tspan font-size="8.5" dy="-5">7</tspan></text>
<text x="769.3" y="1526.5">10<tspan font-size="8.5" dy="-5">8</tspan></text>
<text x="794.6" y="1526.5">10<tspan font-size="8.5" dy="-5">9</tspan></text>
<text x="849.5" y="1526.5">10<tspan font-size="8.5" dy="-5">3</tspan></text>
<text x="882.3" y="1526.5">10<tspan font-size="8.5" dy="-5">4</tspan></text>
<text x="915.2" y="1526.5">10<tspan font-size="8.5" dy="-5">5</tspan></text>
<text x="948" y="1526.5">10<tspan font-size="8.5" dy="-5">6</tspan></text>
<text x="980.8" y="1526.5">10<tspan font-size="8.5" dy="-5">7</tspan></text>
<text x="1013.7" y="1526.5">10<tspan font-size="8.5" dy="-5">8</tspan></text>
<text x="1039" y="1526.5">10<tspan font-size="8.5" dy="-5">9</tspan></text>
</g>

<!-- ================= K ================= -->
<text class="pl" x="1086" y="1271">K</text>
<rect x="1195.1" y="1276" width="28" height="15" fill="#8B5D48"/>
<rect x="1195.1" y="1302.7" width="28" height="15.5" fill="#D5698A"/>
<g font-size="25"><text x="1236" y="1290">si-NC</text><text x="1236" y="1316.7">si-RANBP1 #1</text></g>
<g fill="#8B5D48"><rect x="1206.2" y="1458.6" width="47.5" height="64.8"/><rect x="1381.8" y="1454.5" width="46.9" height="68.9"/></g>
<g fill="#D5698A"><rect x="1271.5" y="1377.8" width="47.8" height="145.6"/><rect x="1447.8" y="1378.8" width="47.1" height="144.6"/></g>
<g fill="none" stroke-width="3">
<path d="M1230 1458.6V1456.5M1219 1456.5H1241M1405.3 1454.5V1447.7M1394.5 1447.7H1416" stroke="#8B5D48"/>
<path d="M1295.4 1377.8V1373.7M1285.4 1373.7H1306M1471.4 1378.8V1376.8M1460.5 1376.8H1482" stroke="#D5698A"/>
</g>
<path d="M1175.4 1288.2V1524.6M1169.3 1523.4H1527.3M1169.3 1289.4H1175.4M1169.3 1367.4H1175.4M1169.3 1445.4H1175.4M1262.3 1523.4V1530M1437.9 1523.4V1530" stroke="#000" stroke-width="2.6" fill="none"/>
<g font-size="23.5" text-anchor="end"><text x="1163.7" y="1297.7">15</text><text x="1163.7" y="1375.7">10</text><text x="1163.7" y="1453.7">5</text><text x="1163.7" y="1531.7">0</text></g>
<text class="st" x="1296" y="1382.5">*</text><text class="st" x="1470.9" y="1385.5">*</text>
<g font-size="25" text-anchor="middle"><text x="1268.5" y="1557.4">HASMC</text><text x="1447.2" y="1557.4">HUASMC</text></g>
<text class="b" font-size="26" text-anchor="middle" transform="translate(1130,1406.7) rotate(-90)">Apoptosis rate (%)</text>
</svg>
</body></html>
